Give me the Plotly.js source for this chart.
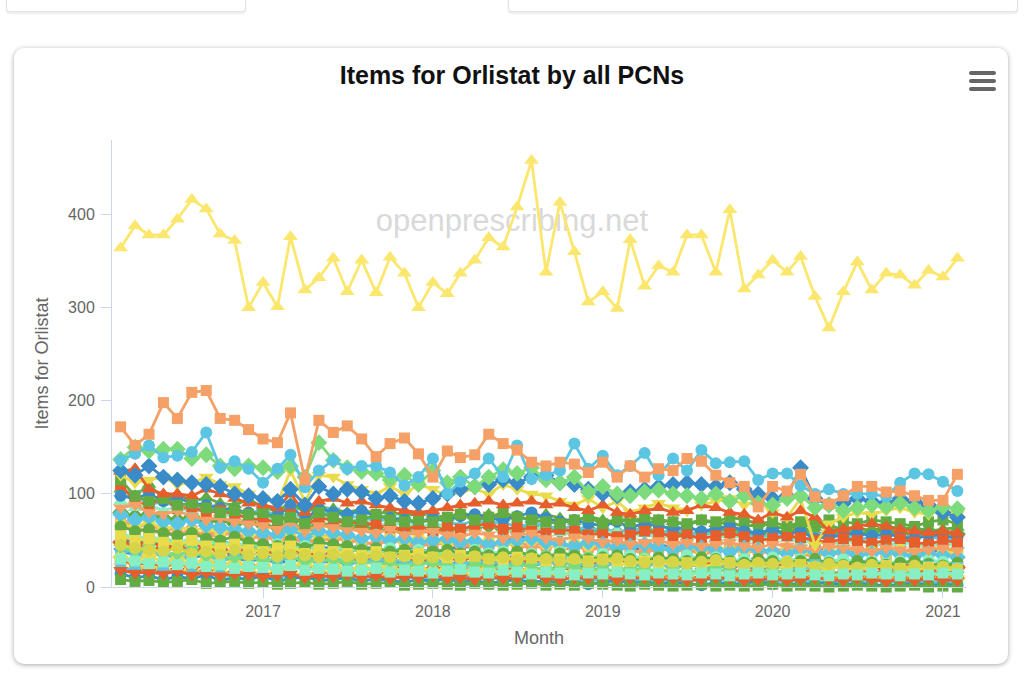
<!DOCTYPE html>
<html><head><meta charset="utf-8">
<script src="https://cdn.plot.ly/plotly-3.0.1.min.js"></script>
<style>
html,body{margin:0;padding:0;background:#fff;width:1024px;height:683px;overflow:hidden;font-family:"Liberation Sans",Arial,sans-serif}
.topcard{position:absolute;top:-30px;height:41px;background:#fff;border:1px solid #e2e2e2;border-top:none;border-radius:0 0 4px 4px;box-shadow:0 2px 2px rgba(0,0,0,0.08)}
#card{position:absolute;left:14px;top:48px;width:994px;height:616px;background:#fff;border-radius:10px;box-shadow:0 1px 5px rgba(0,0,0,0.35)}
#wm{position:absolute;left:0;width:1024px;top:203px;text-align:center;font-size:31px;color:#d9d9d9}
#menu{position:absolute;left:969px;top:71px;width:27px}
#menu div{height:4px;background:#666;border-radius:2px;margin-bottom:4px}
#chart{position:absolute;left:0;top:0;width:1024px;height:683px}
</style></head>
<body>
<div class="topcard" style="left:6px;width:238px"></div>
<div class="topcard" style="left:508px;width:508px"></div>
<div id="card"></div>
<div id="wm">openprescribing.net</div>
<div id="chart"></div>
<div id="menu"><div></div><div></div><div></div></div>
<script>
const months = ["2016-03-01","2016-04-01","2016-05-01","2016-06-01","2016-07-01","2016-08-01","2016-09-01","2016-10-01","2016-11-01","2016-12-01",
"2017-01-01","2017-02-01","2017-03-01","2017-04-01","2017-05-01","2017-06-01","2017-07-01","2017-08-01","2017-09-01","2017-10-01","2017-11-01","2017-12-01",
"2018-01-01","2018-02-01","2018-03-01","2018-04-01","2018-05-01","2018-06-01","2018-07-01","2018-08-01","2018-09-01","2018-10-01","2018-11-01","2018-12-01",
"2019-01-01","2019-02-01","2019-03-01","2019-04-01","2019-05-01","2019-06-01","2019-07-01","2019-08-01","2019-09-01","2019-10-01","2019-11-01","2019-12-01",
"2020-01-01","2020-02-01","2020-03-01","2020-04-01","2020-05-01","2020-06-01","2020-07-01","2020-08-01","2020-09-01","2020-10-01","2020-11-01","2020-12-01",
"2021-01-01","2021-02-01"];
const yearTicks = ["2017-01-01","2018-01-01","2019-01-01","2020-01-01","2021-01-01"];
const yearLabels = ["2017","2018","2019","2020","2021"];

const pcnTop = [364,388,378,378,395,416,406,379,372,300,327,301,376,319,332,353,317,351,316,354,337,300,327,315,337,351,375,365,408,458,338,413,360,306,317,299,373,323,345,338,378,378,338,405,320,335,351,338,355,312,278,317,349,319,337,335,324,340,333,353];
const pcnOrange = [172,152,164,198,181,209,211,181,179,169,159,155,187,115,179,166,173,159,140,154,160,143,118,146,139,142,164,154,147,134,130,134,132,123,134,118,130,118,127,125,138,135,120,112,108,86,108,103,121,97,89,98,108,108,102,103,98,93,93,121];
const pcnCyan = [136,143,152,139,141,145,166,128,135,127,112,127,142,107,125,136,127,130,130,123,109,118,138,100,113,122,138,118,152,116,120,125,154,127,141,120,130,144,120,138,125,147,133,134,135,115,122,122,109,100,105,100,100,100,97,112,122,121,113,103];
const pcnBlue = [125,120,130,118,115,112,110,108,100,98,95,92,105,88,108,100,105,102,95,98,92,90,95,100,105,108,110,115,112,118,120,112,110,105,100,98,102,105,108,110,112,110,108,112,105,100,95,98,128,95,88,90,95,92,90,95,92,88,80,75];
const pcnRed = [124,127,105,100,100,98,105,100,95,90,88,85,100,80,92,95,90,92,88,85,82,80,82,85,88,90,92,88,90,92,88,90,85,82,88,80,78,82,85,80,82,88,85,80,78,72,80,75,82,75,60,62,65,68,65,62,60,58,60,58];
const pcnGreen = [115,98,92,95,88,90,85,80,82,78,80,72,75,68,80,75,70,72,78,72,70,72,70,75,78,72,75,80,75,72,70,68,72,75,68,72,70,75,72,70,68,72,70,75,72,68,70,65,70,68,72,70,68,72,70,68,65,70,72,68];
const pcnYellowDown = [120,112,115,118,110,112,118,110,108,100,95,90,125,92,120,118,110,105,100,108,100,110,105,98,102,105,100,110,105,100,98,92,88,95,85,92,80,85,90,85,82,88,92,95,88,92,80,75,95,45,68,75,80,78,82,85,80,78,82,78];
const pcnLightGreen = [137,150,146,148,148,138,142,130,127,130,128,124,130,118,155,136,128,124,122,115,120,110,125,112,118,108,118,126,122,128,115,112,118,102,108,100,98,102,104,100,98,95,100,92,98,90,88,95,98,85,88,82,85,88,86,90,85,82,86,84];
const pcnS11 = [98,95,100,92,96,90,88,85,82,80,78,76,88,72,85,80,78,82,76,74,72,70,74,72,76,78,74,72,76,80,74,70,72,68,66,70,64,68,66,62,64,60,62,66,60,58,62,56,60,52,54,56,58,55,57,54,52,56,55,53];
const pcnS12 = [110,92,88,96,84,86,80,82,78,74,72,70,78,66,74,72,68,70,66,64,62,66,60,64,62,66,68,62,64,60,58,62,60,56,58,54,56,60,58,54,56,52,55,58,54,50,52,55,53,50,48,52,50,47,50,52,48,46,50,48];
const pcnS13 = [78,72,75,70,68,72,66,64,62,60,58,56,62,54,60,58,56,52,54,50,52,48,50,52,48,50,46,48,50,52,48,46,44,48,46,42,44,46,42,40,44,42,40,38,42,40,38,36,40,38,36,38,34,36,38,35,33,36,34,32];
const pcnS14 = [85,88,80,78,82,76,72,74,70,68,66,62,70,60,66,64,62,60,58,62,56,58,60,56,54,58,56,52,55,58,52,50,54,52,48,50,46,48,50,46,48,44,46,48,44,42,46,44,42,40,44,42,40,38,42,40,38,40,42,39];
const pcnS15 = [65,60,62,58,55,58,52,50,54,48,46,44,50,42,48,46,44,40,42,38,40,36,38,40,36,38,34,36,38,34,32,36,34,30,32,34,30,28,32,30,28,32,30,28,26,30,28,26,28,30,26,24,28,26,24,26,28,25,23,26];
const pcnS16 = [55,50,52,48,45,50,44,42,46,40,38,42,44,36,40,38,36,34,38,32,34,36,32,30,34,32,30,28,32,30,28,30,26,28,30,26,24,28,26,24,26,22,24,26,22,24,20,22,24,21,20,22,19,21,23,20,18,21,20,19];
const pcnS17 = [42,38,40,36,34,38,32,34,30,32,28,30,34,26,30,28,26,28,24,26,22,24,26,22,20,24,22,20,24,22,18,20,22,18,20,16,18,20,16,18,15,17,19,16,14,16,18,15,13,16,14,12,15,13,14,16,13,12,14,13];
const pcnMint = [30,28,25,27,24,26,22,24,20,22,21,19,23,18,20,19,17,18,20,16,18,17,15,17,19,16,15,18,16,14,16,15,13,15,14,16,14,13,15,14,13,15,14,12,14,15,13,14,15,13,12,14,13,15,14,12,14,13,15,14];
const pcnS19 = [20,18,16,18,15,14,16,13,12,14,12,10,13,11,12,10,11,12,10,9,11,10,8,10,12,9,10,8,9,11,10,8,9,7,8,10,9,7,8,6,8,7,9,6,8,7,5,7,8,6,5,7,6,8,5,6,7,5,6,4];
const pcnS20 = [8,6,7,5,6,8,4,5,6,4,5,3,4,5,3,4,6,3,4,5,2,3,4,3,2,4,3,2,3,4,2,3,2,4,3,2,1,3,2,1,2,3,1,2,1,2,3,1,2,1,0,1,2,1,0,1,2,0,1,0];
const pcnS21 = [38,35,33,36,30,32,34,29,31,28,30,26,28,30,26,28,25,27,29,24,26,28,25,23,27,24,26,22,25,23,26,28,24,22,25,30,26,24,28,25,23,26,24,22,25,28,24,22,20,24,22,25,21,23,20,22,24,21,23,20];
const pcnS22 = [28,24,26,22,25,20,23,26,21,24,22,19,22,24,20,22,18,21,19,23,20,18,21,19,17,20,22,18,20,17,19,21,18,16,19,17,20,18,16,18,15,17,19,16,18,15,17,16,18,15,14,16,18,15,17,14,16,18,15,17];
const pcnOlive = [45,42,40,38,42,36,38,35,40,34,36,33,35,34,32,35,33,31,34,32,33,30,32,34,31,33,30,32,29,31,30,28,30,27,29,31,28,26,28,27,25,27,29,26,24,26,25,27,24,22,25,23,21,24,22,20,23,21,22,20];
const pcnS24 = [92,85,88,82,86,80,84,78,76,80,74,72,78,70,76,74,70,72,68,66,70,64,68,66,62,64,68,62,60,64,62,58,60,56,58,60,55,57,54,56,52,55,53,56,52,50,54,52,48,50,46,48,50,47,45,48,46,44,47,45];
const pcnS25 = [62,65,58,60,56,62,54,56,58,52,54,50,55,48,52,50,52,48,46,50,48,44,46,48,45,47,44,46,48,44,42,46,44,40,42,44,48,42,40,44,42,38,40,42,45,40,38,42,40,38,36,40,42,38,36,40,38,42,40,38];
const pcnS26 = [52,48,50,46,48,44,46,50,45,42,44,40,46,42,44,40,42,44,40,38,42,40,38,40,44,42,46,50,54,52,48,46,44,48,42,44,40,42,46,42,40,44,42,40,38,42,36,40,38,42,40,36,38,40,37,39,36,38,40,37];
const pcnS27 = [80,76,78,74,72,76,70,72,68,70,66,64,70,62,68,66,64,66,62,64,60,62,64,60,62,64,66,62,60,64,62,60,58,62,60,58,60,62,58,60,56,58,60,62,58,56,60,58,62,56,58,60,57,59,61,58,56,60,58,57];
const pcnS28 = [18,15,16,14,17,13,15,12,14,13,11,12,14,10,12,11,13,10,12,9,11,10,12,9,10,8,11,9,10,12,9,8,10,9,11,8,9,10,8,9,7,8,10,9,7,8,9,7,8,10,8,7,9,8,6,8,7,9,8,7];
const pcnS29 = [95,100,88,92,85,90,82,86,80,78,84,75,80,72,78,82,74,76,70,74,72,68,74,70,66,72,68,70,64,68,66,62,66,60,64,58,62,60,56,62,58,55,60,56,58,52,56,54,50,55,52,56,50,54,52,48,52,55,50,52];
const pcnS30 = [75,62,70,58,66,60,54,62,56,50,58,48,54,46,52,58,48,50,44,52,46,42,50,44,48,40,46,50,42,44,48,40,42,46,38,44,40,36,42,38,40,35,38,42,36,40,34,38,36,32,38,34,36,40,34,38,36,33,37,35];
const pcnS31 = [50,56,46,52,48,44,50,42,46,40,44,38,42,46,38,40,36,42,38,34,40,36,32,38,34,36,30,34,38,32,34,30,36,32,28,34,30,32,28,30,26,32,28,30,26,28,24,28,30,26,24,28,26,22,26,24,28,22,26,24];
const pcnS32 = [32,28,34,26,30,24,28,22,26,20,24,18,22,26,19,23,17,21,18,22,16,20,17,19,15,18,20,14,17,19,15,13,16,18,14,12,15,17,13,11,14,16,12,10,13,15,11,12,14,10,9,12,13,10,11,9,12,10,11,9];
const pcnS33 = [14,10,12,8,11,9,13,7,10,8,12,6,9,11,7,8,10,6,9,7,5,8,6,9,5,7,4,6,8,5,7,4,6,3,5,7,4,6,3,5,4,2,5,3,4,6,3,2,4,3,5,2,4,3,1,3,4,2,3,2];
const pcnS34 = [48,44,50,42,46,38,44,40,36,42,38,34,40,36,32,38,34,30,36,32,34,30,28,34,30,32,28,26,32,28,30,26,28,24,30,26,28,24,26,22,28,24,26,22,24,20,26,22,24,20,22,26,21,23,19,22,24,20,22,21];
const pcnS35 = [58,52,55,50,48,52,46,50,44,48,42,46,40,44,42,38,44,40,36,42,38,40,36,38,34,40,36,38,34,36,32,38,34,30,36,32,34,30,32,28,34,30,32,28,30,26,32,28,30,26,28,30,27,29,25,28,26,29,27,25];
const pcnS36 = [105,98,110,95,100,92,96,90,88,94,86,82,90,80,86,84,80,84,78,82,76,80,78,74,80,76,78,74,76,72,78,74,70,76,72,70,74,68,72,70,66,72,68,70,64,68,66,62,68,64,66,62,64,60,66,62,64,60,62,64];
const pcnS37 = [22,18,24,16,20,15,19,17,14,18,13,16,15,12,17,14,11,15,13,16,12,14,11,13,15,10,12,14,11,13,10,12,14,11,9,12,13,10,11,13,9,12,10,11,8,12,10,9,11,13,9,10,12,8,11,10,9,12,10,9];
const pcnS38 = [36,40,32,38,30,34,36,28,32,34,27,31,29,33,26,30,28,25,31,27,29,24,28,26,23,29,25,27,22,26,24,28,23,25,21,27,24,22,26,20,24,22,19,25,21,23,20,22,18,24,20,22,19,21,23,18,20,22,19,21];
const pcnS39 = [68,64,70,62,66,60,64,58,62,56,60,54,58,62,52,56,54,50,56,52,48,54,50,46,52,48,50,44,48,50,46,42,48,44,46,40,44,46,42,40,44,38,42,40,38,42,36,40,38,36,40,38,34,38,36,40,36,34,38,36];

const C = {yellow:'#fbe76e',orange:'#f4a066',cyan:'#5cc6e2',blue:'#3a8cc8',red:'#e55e2c',green:'#63ab43',ydown:'#e8dc4c',lgreen:'#7edb7c',mint:'#87efc4',olive:'#d6d548'};

const series = [
  ['PCN S26', pcnS26, C.blue, 'square'],
  ['PCN S36', pcnS36, C.green, 'triangle-up'],
  ['PCN S27', pcnS27, C.green, 'diamond'],
  ['PCN S29', pcnS29, C.cyan, 'triangle-down'],
  ['PCN S25', pcnS25, C.orange, 'circle'],
  ['PCN S24', pcnS24, C.mint, 'triangle-up'],
  ['PCN S30', pcnS30, C.orange, 'square'],
  ['PCN S21', pcnS21, C.blue, 'triangle-down'],
  ['PCN S34', pcnS34, C.red, 'diamond'],
  ['PCN S22', pcnS22, C.red, 'circle'],
  ['PCN S11', pcnS11, C.blue, 'circle'],
  ['PCN S31', pcnS31, C.lgreen, 'circle'],
  ['PCN S12', pcnS12, C.red, 'square'],
  ['PCN S39', pcnS39, C.ydown, 'circle'],
  ['PCN S13', pcnS13, C.cyan, 'diamond'],
  ['PCN S35', pcnS35, C.mint, 'circle'],
  ['PCN S14', pcnS14, C.orange, 'triangle-down'],
  ['PCN S15', pcnS15, C.green, 'circle'],
  ['PCN S38', pcnS38, C.cyan, 'square'],
  ['PCN S16', pcnS16, C.ydown, 'square'],
  ['PCN S32', pcnS32, C.ydown, 'diamond'],
  ['PCN S17', pcnS17, C.lgreen, 'triangle-down'],
  ['PCN Olive', pcnOlive, C.olive, 'circle'],
  ['PCN S37', pcnS37, C.olive, 'triangle-down'],
  ['PCN S19', pcnS19, C.cyan, 'circle'],
  ['PCN S33', pcnS33, C.blue, 'circle'],
  ['PCN S20', pcnS20, C.green, 'square'],
  ['PCN S28', pcnS28, C.red, 'triangle-down'],
  ['PCN Mint', pcnMint, C.mint, 'square'],
  ['PCN Green', pcnGreen, C.green, 'square'],
  ['PCN Yellow', pcnYellowDown, C.ydown, 'triangle-down'],
  ['PCN Red', pcnRed, C.red, 'triangle-up'],
  ['PCN Blue', pcnBlue, C.blue, 'diamond'],
  ['PCN LightGreen', pcnLightGreen, C.lgreen, 'diamond'],
  ['PCN Cyan', pcnCyan, C.cyan, 'circle'],
  ['PCN Orange', pcnOrange, C.orange, 'square'],
  ['PCN Top', pcnTop, C.yellow, 'triangle-up']
];

const sizeFor = {square:11, circle:12, 'triangle-up':13, 'triangle-down':13, diamond:13};
const traces = series.map(s => ({
  type:'scatter', mode:'lines+markers', name:s[0], x:months, y:s[1],
  line:{color:s[2], width:2.8},
  marker:{color:s[2], symbol:s[3], size:sizeFor[s[3]], line:{width:0}},
  cliponaxis:false, hoverinfo:'skip'
}));

const layout = {
  width:1024, height:683,
  margin:{l:112, r:58, t:140, b:96},
  paper_bgcolor:'rgba(0,0,0,0)', plot_bgcolor:'rgba(0,0,0,0)',
  showlegend:false, hovermode:false,
  font:{family:'"Liberation Sans", Arial, sans-serif', color:'#666'},
  title:{text:'Items for Orlistat by all PCNs', x:0.5, xanchor:'center', xref:'container',
         y:1-75/683, yanchor:'middle', yref:'container',
         font:{family:'"Liberation Sans", Arial, sans-serif', size:25, color:'#111', weight:'bold'}},
  xaxis:{type:'date', range:['2016-02-11 12:00','2021-02-19 12:00'], tickmode:'array', tickvals:yearTicks, ticktext:yearLabels,
         showgrid:false, zeroline:false, showline:true, linecolor:'#ccd6eb', linewidth:1,
         ticks:'outside', ticklen:10, tickcolor:'#ccd6eb', tickwidth:1,
         tickfont:{size:16, color:'#666'},
         title:{text:'Month', font:{size:18, color:'#666'}, standoff:12}},
  yaxis:{range:[0,480], tickmode:'array', tickvals:[0,100,200,300,400], ticktext:['0','100','200','300','400'],
         showgrid:false, zeroline:false, showline:true, linecolor:'#ccd6eb', linewidth:1,
         ticks:'outside', ticklen:10, tickcolor:'#ccd6eb', tickwidth:1, ticklabelstandoff:3,
         tickfont:{size:16, color:'#666'},
         title:{text:'Items for Orlistat', font:{size:18, color:'#666'}, standoff:14}}
};

Plotly.newPlot('chart', traces, layout, {displayModeBar:false, staticPlot:true});
</script>
</body></html>
